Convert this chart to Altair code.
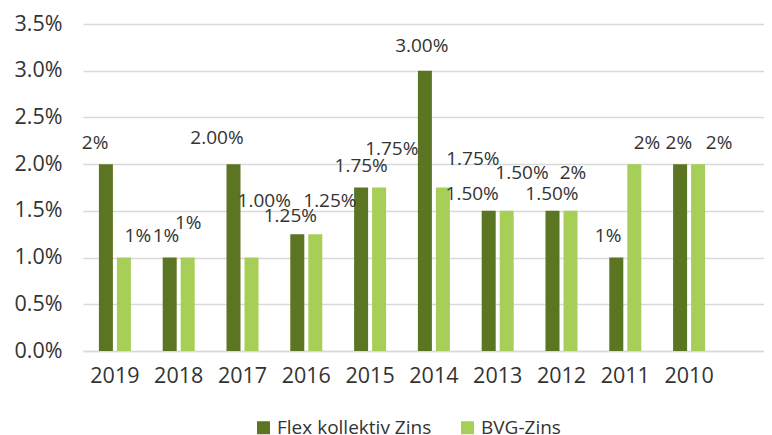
import altair as alt
import pandas as pd

years = ["2019", "2018", "2017", "2016", "2015", "2014", "2013", "2012", "2011", "2010"]
series = ["Flex kollektiv Zins", "BVG-Zins"]
flex = [2.0, 1.0, 2.0, 1.25, 1.75, 3.0, 1.5, 1.5, 1.0, 2.0]
bvg = [1.0, 1.0, 1.0, 1.25, 1.75, 1.75, 1.5, 1.5, 2.0, 2.0]

# data labels as printed in the reference (manually placed in the original)
flex_labels = ["2%", "1%", "2.00%", "1.25%", "1.75%", "3.00%", "1.50%", "1.50%", "1%", "2%"]
bvg_labels = ["1%", "1%", "1.00%", "1.25%", "1.75%", "1.75%", "1.50%", "2%", "2%", "2%"]
# label anchor positions, in category units (x) and percent (y)
flex_label_x = [0.19, 1.30, 2.10, 3.25, 4.36, 5.31, 6.10, 7.35, 8.23, 9.34]
flex_label_y = [2.23, 1.23, 2.28, 1.45, 1.98, 3.26, 1.68, 1.68, 1.23, 2.23]
bvg_label_x = [0.86, 1.65, 2.84, 3.87, 4.84, 6.11, 6.88, 7.68, 8.84, 9.97]
bvg_label_y = [1.23, 1.37, 1.61, 1.61, 2.16, 2.06, 1.91, 1.91, 2.23, 2.23]

colors = ["#5b7522", "#a7cf58"]
FONT = "Open Sans"
TXT = "#333333"
GRID = "#d9d9d9"

bar_df = pd.DataFrame({
    "year": years * 2,
    "series": [series[0]] * len(years) + [series[1]] * len(years),
    "value": flex + bvg,
})
lab_df = pd.DataFrame({
    "lx": flex_label_x + bvg_label_x,
    "ly": flex_label_y + bvg_label_y,
    "label": flex_labels + bvg_labels,
})

bars = alt.Chart(bar_df).mark_bar().encode(
    x=alt.X("year:N", sort=years,
            scale=alt.Scale(domain=years, paddingInner=0, paddingOuter=0.337, align=0),
            axis=alt.Axis(title=None, labelAngle=0, ticks=False, domainColor=GRID,
                          domainWidth=1.5, labelFontSize=21.5, labelColor=TXT,
                          labelPadding=14, labelFont=FONT)),
    xOffset=alt.XOffset("series:N", sort=series,
                        scale=alt.Scale(domain=series, paddingInner=0.222, paddingOuter=0.883)),
    y=alt.Y("value:Q", scale=alt.Scale(domain=[0, 3.5], nice=False),
            axis=alt.Axis(title=None, values=[0, 0.5, 1, 1.5, 2, 2.5, 3, 3.5],
                          labelExpr="format(datum.value, '.1f') + '%'",
                          ticks=False, domain=False, gridColor=GRID, gridWidth=1.5,
                          labelFontSize=21.5, labelColor=TXT, labelPadding=21,
                          labelFont=FONT)),
    color=alt.Color("series:N", sort=series,
                    scale=alt.Scale(domain=series, range=colors),
                    legend=alt.Legend(title=None, orient="none", direction="horizontal",
                                      legendX=171, legendY=394,
                                      symbolType="square", symbolSize=169,
                                      symbolStrokeWidth=0, labelFontSize=19,
                                      labelColor=TXT, labelFont=FONT,
                                      columnPadding=26, labelOffset=4)),
)

labels = alt.Chart(lab_df).mark_text(fontSize=19, color=TXT, font=FONT,
                                      align="center", baseline="middle").encode(
    x=alt.X("lx:Q", scale=alt.Scale(domain=[0, 10.674], nice=False, zero=False), axis=None),
    y=alt.Y("ly:Q"),
    text="label:N",
)

chart = alt.layer(bars, labels).resolve_scale(x="independent").properties(
    width=681, height=327,
    padding={"left": 5, "top": 5, "right": 0, "bottom": 2},
).configure_view(stroke=None)

chart.save("out.html", embed_options={"renderer": "svg", "actions": False})
